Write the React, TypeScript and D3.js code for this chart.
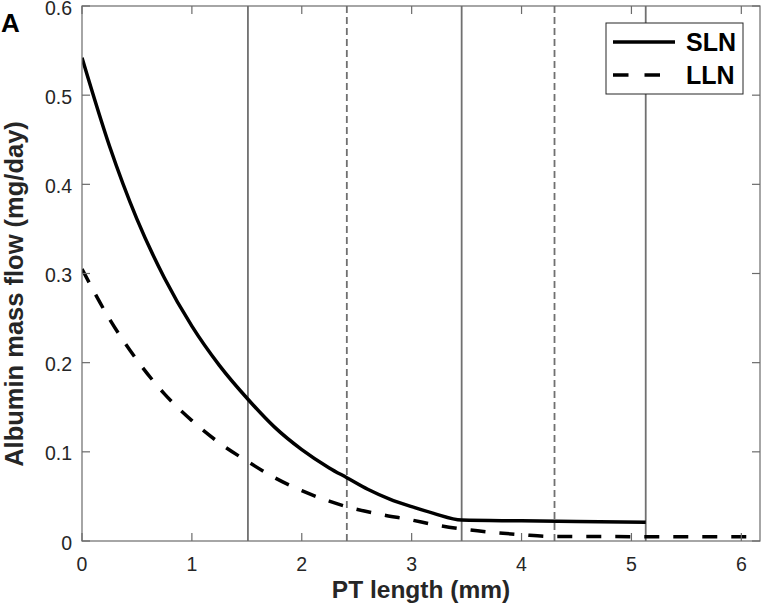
import React from "react";
import * as d3 from "d3";

const slnX = [0, 0.25, 0.5, 0.75, 1.0, 1.25, 1.51, 1.75, 2.0, 2.25, 2.41, 2.6, 2.8, 3.0, 3.2, 3.455, 4.0, 4.5, 5.13];
const slnY = [0.542, 0.443, 0.361, 0.295, 0.241, 0.197, 0.159, 0.128, 0.1025, 0.082, 0.071, 0.058, 0.047, 0.0385, 0.031, 0.0235, 0.0226, 0.0218, 0.021];
const llnX = [0, 0.25, 0.5, 0.75, 1.0, 1.25, 1.51, 1.75, 2.0, 2.25, 2.41, 2.7, 3.0, 3.2, 3.455, 3.7, 4.0, 4.3, 5.0, 5.5, 6.17];
const llnY = [0.305, 0.249, 0.203, 0.165, 0.135, 0.110, 0.089, 0.0712, 0.0564, 0.0447, 0.0385, 0.0302, 0.0235, 0.0184, 0.0135, 0.0101, 0.0071, 0.005, 0.0049, 0.0048, 0.0047];
const solidBounds = [1.51, 3.455, 5.13];
const dashedBounds = [2.41, 4.3];
const xTicks = [0, 1, 2, 3, 4, 5, 6];
const yTicks = [0, 0.1, 0.2, 0.3, 0.4, 0.5, 0.6];
const seriesNames = ["SLN", "LLN"];

const W = 761, H = 608;
const L = 82, R = 760, T = 6, B = 541;
const FONT = "'Liberation Sans', Arial, Helvetica, sans-serif";
const AX = "#6b6b6b";
const TXT = "#262626";

export default function App() {
  const x = d3.scaleLinear().domain([0, 6.17]).range([L, R]);
  const y = d3.scaleLinear().domain([0, 0.6]).range([B, T]);
  const line = d3.line<[number, number]>().x(d => x(d[0])).y(d => y(d[1])).curve(d3.curveMonotoneX);
  const sln = line(slnX.map((v, i) => [v, slnY[i]] as [number, number])) || "";
  const lln = line(llnX.map((v, i) => [v, llnY[i]] as [number, number])) || "";
  const tl = 8;
  return (
    <svg width={W} height={H} style={{ position: "absolute", left: 0, top: 0, background: "#fff" }} fontFamily={FONT}>
      <defs>
        <clipPath id="plot"><rect x={L} y={T} width={R - L} height={B - T} /></clipPath>
      </defs>
      <rect x={0} y={0} width={W} height={H} fill="#fff" />
      {solidBounds.map(v => (
        <line key={"s" + v} x1={x(v)} x2={x(v)} y1={T} y2={B} stroke="#707070" strokeWidth={1.8} />
      ))}
      {dashedBounds.map(v => (
        <line key={"d" + v} x1={x(v)} x2={x(v)} y1={T} y2={B} stroke="#707070" strokeWidth={1.8} strokeDasharray="7,4" />
      ))}
      <g clipPath="url(#plot)">
        <path d={sln} fill="none" stroke="#000" strokeWidth={3.5} />
        <path d={lln} fill="none" stroke="#000" strokeWidth={3.5} strokeDasharray="15,14" />
      </g>
      <rect x={L} y={T} width={R - L} height={B - T} fill="none" stroke={AX} strokeWidth={1.2} />
      {xTicks.map(v => (
        <g key={"xt" + v}>
          <line x1={x(v)} x2={x(v)} y1={B} y2={B - tl} stroke={AX} strokeWidth={1.2} />
          <line x1={x(v)} x2={x(v)} y1={T} y2={T + tl} stroke={AX} strokeWidth={1.2} />
          <text x={x(v)} y={571} textAnchor="middle" fontSize={19.5} fill={TXT}>{v}</text>
        </g>
      ))}
      {yTicks.map(v => (
        <g key={"yt" + v}>
          <line x1={L} x2={L + tl} y1={y(v)} y2={y(v)} stroke={AX} strokeWidth={1.2} />
          <line x1={R} x2={R - tl} y1={y(v)} y2={y(v)} stroke={AX} strokeWidth={1.2} />
          <text x={72} y={y(v) + 8.5} textAnchor="end" fontSize={19.5} fill={TXT}>{v === 0 ? "0" : v.toFixed(1)}</text>
        </g>
      ))}
      <text x={(L + R) / 2} y={598} textAnchor="middle" fontSize={24.5} fontWeight="bold" fill={TXT}>PT length (mm)</text>
      <text transform={`translate(23,294) rotate(-90)`} textAnchor="middle" fontSize={25.5} fontWeight="bold" fill={TXT}>Albumin mass flow (mg/day)</text>
      <text x={1} y={32} fontSize={26} fontWeight="bold" fill="#000">A</text>
      <rect x={606} y={23} width={137} height={71} fill="#fff" stroke={TXT} strokeWidth={1} />
      <line x1={613} x2={675} y1={42} y2={42} stroke="#000" strokeWidth={3.5} />
      <line x1={613} x2={675} y1={75} y2={75} stroke="#000" strokeWidth={3.5} strokeDasharray="15.5,16" />
      <text x={686} y={50.5} fontSize={25} fontWeight="bold" fill="#000">{seriesNames[0]}</text>
      <text x={686} y={83.5} fontSize={25} fontWeight="bold" fill="#000">{seriesNames[1]}</text>
    </svg>
  );
}
